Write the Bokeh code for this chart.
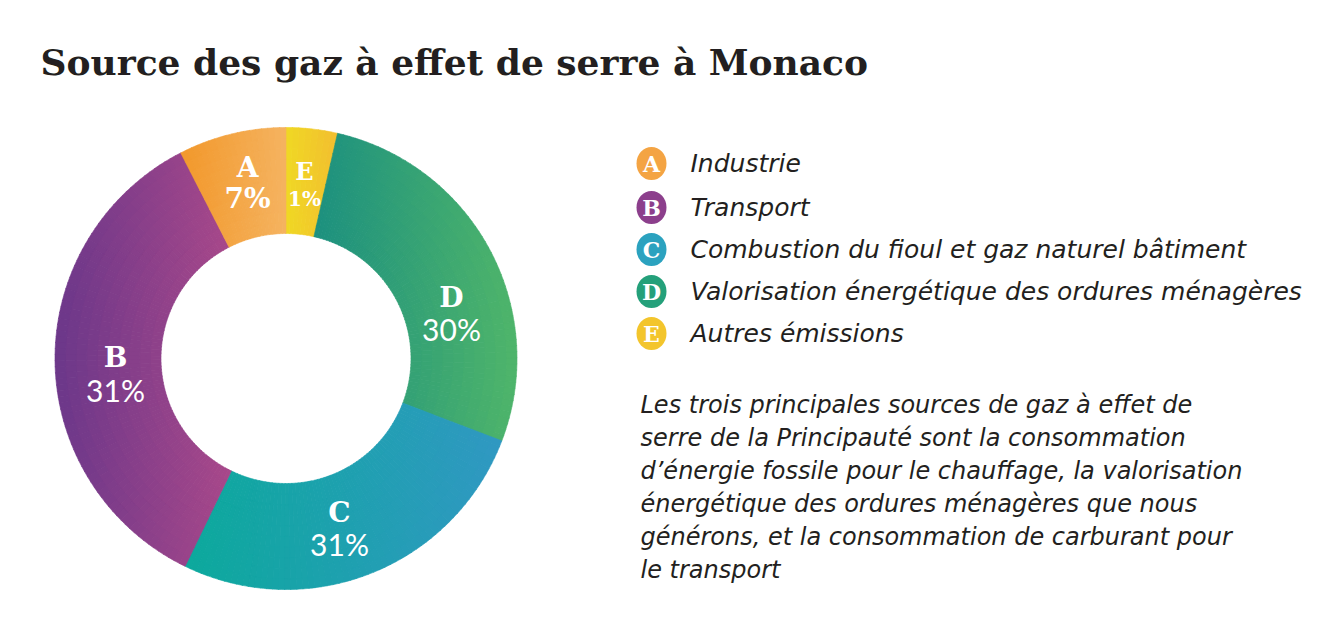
import numpy as np
from bokeh.plotting import figure
from bokeh.models import ColumnDataSource, Range1d
from bokeh.core.properties import value
from bokeh.embed import file_html
from bokeh.resources import INLINE

# ---------------- data ----------------
title_text = "Source des gaz à effet de serre à Monaco"
codes = ["A", "B", "C", "D", "E"]
categories = [
    "Industrie",
    "Transport",
    "Combustion du fioul et gaz naturel bâtiment",
    "Valorisation énergétique des ordures ménagères",
    "Autres émissions",
]
percent_labels = [7, 31, 31, 30, 1]
# arc of each slice as drawn in the picture (degrees)
arc_degrees = [27, 127, 95, 98, 13]
# clockwise drawing order starting at 12 o'clock
draw_order = ["E", "D", "C", "B", "A"]
gradient_left = ["#F2982B", "#6B378A", "#0CA99C", "#1C907F", "#F0D824"]
gradient_right = ["#F5B360", "#A8488A", "#3098C2", "#4FB56A", "#F2BE30"]
legend_colors = ["#F4A443", "#8C3F8C", "#2BA2BF", "#24A07A", "#F3C52C"]
paragraph_lines = [
    "Les trois principales sources de gaz à effet de",
    "serre de la Principauté sont la consommation",
    "d’énergie fossile pour le chauffage, la valorisation",
    "énergétique  des ordures ménagères que nous",
    "générons, et la consommation de carburant pour",
    "le transport",
]

# ---------------- layout constants ----------------
W, H = 1328, 621
CX, CY = 285.5, H - 358
R_OUT, R_IN = 231, 125
TXT = "#231F20"

p = figure(width=W, height=H, x_range=Range1d(0, W), y_range=Range1d(0, H),
           x_axis_type=None, y_axis_type=None, toolbar_location=None,
           output_backend="svg", min_border=0)
p.outline_line_color = None
p.grid.visible = False
p.background_fill_color = "white"
p.border_fill_color = "white"


def hex2rgb(h):
    h = h.lstrip("#")
    return np.array([int(h[i:i + 2], 16) for i in (0, 2, 4)], dtype=float)


def rgb2hex(c):
    return "#%02x%02x%02x" % tuple(int(round(v)) for v in c)


# ---------------- donut with horizontal gradients ----------------
cells = dict(start=[], end=[], r0=[], r1=[], color=[])
t0 = 0.0
for code in draw_order:
    i = codes.index(code)
    deg = arc_degrees[i]
    t1 = t0 + deg
    a_hi = np.deg2rad(90 - t0)
    a_lo = np.deg2rad(90 - t1)
    samp = np.linspace(a_lo, a_hi, 200)
    xs = np.concatenate([CX + R_OUT * np.cos(samp), CX + R_IN * np.cos(samp)])
    xmin, xmax = xs.min(), xs.max()
    cl, cr = hex2rgb(gradient_left[i]), hex2rgb(gradient_right[i])
    n_a = max(3, int(deg / 1.5))
    n_r = 10
    a_edges = np.linspace(a_lo, a_hi, n_a + 1)
    r_edges = np.linspace(R_IN, R_OUT, n_r + 1)
    for k in range(n_a):
        for j in range(n_r):
            am = 0.5 * (a_edges[k] + a_edges[k + 1])
            rm = 0.5 * (r_edges[j] + r_edges[j + 1])
            x = CX + rm * np.cos(am)
            t = np.clip((x - xmin) / (xmax - xmin), 0, 1)
            cells["start"].append(a_edges[k])
            cells["end"].append(a_edges[k + 1] + 0.002)
            cells["r0"].append(r_edges[j])
            cells["r1"].append(r_edges[j + 1] + (0.6 if j < n_r - 1 else 0))
            cells["color"].append(rgb2hex(cl + (cr - cl) * t))
    t0 = t1

src = ColumnDataSource(cells)
p.annular_wedge(x=CX, y=CY, inner_radius="r0", outer_radius="r1",
                start_angle="start", end_angle="end", fill_color="color",
                line_color="color", line_width=0.6, source=src)

# slice labels
lab_x = [247, 115, 339, 451, 304]
lab_y_letter = [167, 357, 512, 297, 171]
lab_y_pct = [198, 389, 543, 328, 198]
letter_size = ["28px", "28px", "28px", "28px", "24px"]
pct_font = ["DejaVu Serif", "Lato", "Lato", "Lato", "DejaVu Serif"]
pct_style = ["bold", "normal", "normal", "normal", "bold"]
pct_size = ["28px", "30px", "30px", "30px", "20px"]
lsrc = ColumnDataSource(dict(
    x=lab_x, yl=[H - v for v in lab_y_letter], yp=[H - v for v in lab_y_pct],
    code=codes, pct=["%d%%" % v for v in percent_labels],
    lsize=letter_size, pfont=pct_font, pstyle=pct_style, psize=pct_size))
p.text(x="x", y="yl", text="code", source=lsrc, text_color="white",
       text_font=value("DejaVu Serif"), text_font_style="bold",
       text_font_size="lsize", text_align="center", text_baseline="middle")
p.text(x="x", y="yp", text="pct", source=lsrc, text_color="white",
       text_font="pfont", text_font_style="pstyle",
       text_font_size="psize", text_align="center", text_baseline="middle")

# ---------------- title ----------------
p.text(x=[40], y=[H - 61], text=[title_text], text_color=TXT,
       text_font=value("DejaVu Serif"), text_font_style="bold",
       text_font_size="36px", text_baseline="middle")

# ---------------- legend ----------------
leg_y = [163, 207, 249, 291, 333]
gsrc = ColumnDataSource(dict(x=[651] * 5, y=[H - v for v in leg_y],
                             tx=[690] * 5, code=codes, cat=categories,
                             color=legend_colors))
p.ellipse(x="x", y="y", width=30, height=33, fill_color="color",
          line_color=None, source=gsrc)
p.text(x="x", y="y", text="code", source=gsrc, text_color="white",
       text_font=value("DejaVu Serif"), text_font_style="bold",
       text_font_size="22px", text_align="center", text_baseline="middle")
p.text(x="tx", y="y", text="cat", source=gsrc, text_color=TXT,
       text_font=value("DejaVu Sans"), text_font_style="italic",
       text_font_size="25px", text_baseline="middle")

# ---------------- paragraph ----------------
par_y = [404, 437, 470, 503, 536, 569]
psrc = ColumnDataSource(dict(x=[640] * len(paragraph_lines),
                             y=[H - v for v in par_y], t=paragraph_lines))
p.text(x="x", y="y", text="t", source=psrc, text_color=TXT,
       text_font=value("DejaVu Sans"), text_font_style="italic",
       text_font_size="24px", text_baseline="middle")

open("out.html", "w").write(file_html(p, INLINE))
